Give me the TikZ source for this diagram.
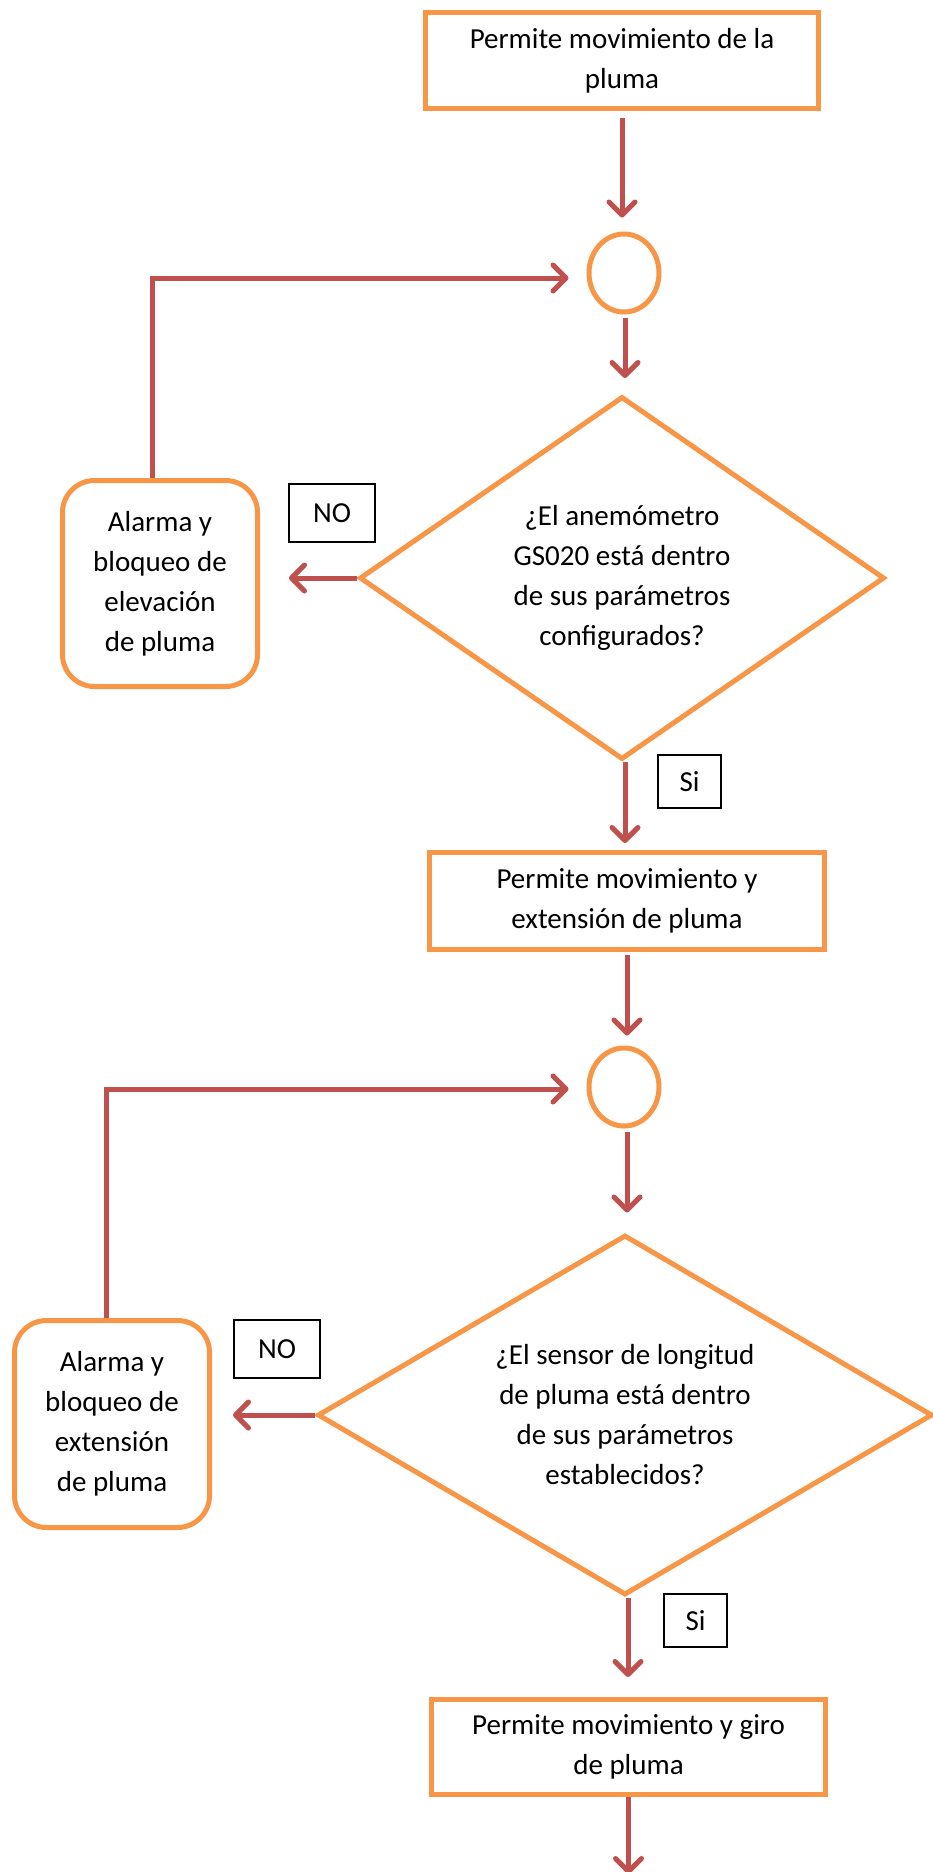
\documentclass[tikz,border=0pt]{standalone}
\usepackage{fontspec}
\setmainfont{Carlito}
\usetikzlibrary{shapes.geometric,arrows.meta}
\definecolor{flowor}{HTML}{F79646}
\definecolor{flowred}{HTML}{C0504D}
\begin{document}
\begin{tikzpicture}[x=1pt,y=-1pt,
  every node/.style={font=\fontsize{29}{40}\selectfont, align=center},
  procbox/.style={draw=flowor, line width=5pt, rectangle, inner sep=0pt},
  alarmbox/.style={draw=flowor, line width=5pt, rectangle, rounded corners=32pt, minimum width=195pt, minimum height=206pt, inner sep=0pt},
  junction/.style={draw=flowor, line width=5pt, ellipse, minimum width=70pt, minimum height=78pt, inner sep=0pt},
  decision/.style={draw=flowor, line width=5pt, diamond, inner sep=0pt},
  tag/.style={draw=black, line width=1.5pt, rectangle, inner sep=0pt},
  flow/.style={draw=flowred, line width=5pt, -{Straight Barb[length=13pt,width=26pt,line cap=round,line join=round]}}
]
\useasboundingbox (0,0) rectangle (933,1872);

% nodes
\node[procbox, minimum width=393pt, minimum height=96pt] (top) at (622,60.5) {Permite movimiento de la\\pluma};
\node[junction] (c1) at (624,273) {};
\node[decision, minimum width=525pt, minimum height=363pt, aspect=1.44] (q1) at (622,578) {¿El anemómetro\\GS020 está dentro\\de sus parámetros\\configurados?};
\node[alarmbox] (a1) at (160,583.5) {Alarma y\\bloqueo de\\elevación\\de pluma};
\node[tag, minimum width=86pt, minimum height=58pt] (no1) at (332,513) {NO};
\node[tag, minimum width=63pt, minimum height=53pt] (si1) at (689.5,781.5) {Si};
\node[procbox, minimum width=395pt, minimum height=97pt] (p2) at (627,901) {Permite movimiento y\\extensión de pluma};
\node[junction] (c2) at (624,1087) {};
\node[decision, minimum width=615pt, minimum height=360pt, aspect=1.7] (q2) at (625,1415) {¿El sensor de longitud\\de pluma está dentro\\de sus parámetros\\establecidos?};
\node[alarmbox, minimum height=207pt] (a2) at (112,1424) {Alarma y\\bloqueo de\\extensión\\de pluma};
\node[tag, minimum width=86pt, minimum height=58pt] (no2) at (277,1349) {NO};
\node[tag, minimum width=63pt, minimum height=53pt] (si2) at (695.5,1620.5) {Si};
\node[procbox, minimum width=394pt, minimum height=95pt] (p3) at (628.5,1747) {Permite movimiento y giro\\de pluma};
\coordinate (end) at (628,1874);

% connectors
\draw[flow, shorten <=7pt, shorten >=14pt] (top.south) -- (top.south |- c1.north);
\draw[flow, shorten <=3pt, shorten >=16pt] ([xshift=1pt]c1.south) -- ([xshift=1pt]c1.south |- q1.north);
\draw[flow, shorten >=29pt] (q1.west) -- (q1.west -| a1.east);
\draw[flow, shorten >=18pt] ([xshift=-8pt]a1.north) |- ([yshift=-5pt]c1.west);
\draw[flow, shorten >=7pt] ([xshift=3pt]q1.south) -- ([xshift=3pt]q1.south |- p2.north);
\draw[flow, shorten <=3pt, shorten >=10pt] (p2.south) -- (p2.south |- c2.north);
\draw[flow, shorten <=3pt, shorten >=20pt] ([xshift=3pt]c2.south) -- ([xshift=3pt]c2.south |- q2.north);
\draw[flow, shorten >=21pt] (q2.west) -- (q2.west -| a2.east);
\draw[flow, shorten >=18pt] ([xshift=-6pt]a2.north) |- ([yshift=-2pt]c2.west);
\draw[flow, shorten >=20pt] ([xshift=3pt]q2.south) -- ([xshift=3pt]q2.south |- p3.north);
\draw[flow] (p3.south) -- (p3.south |- end);
\end{tikzpicture}
\end{document}
